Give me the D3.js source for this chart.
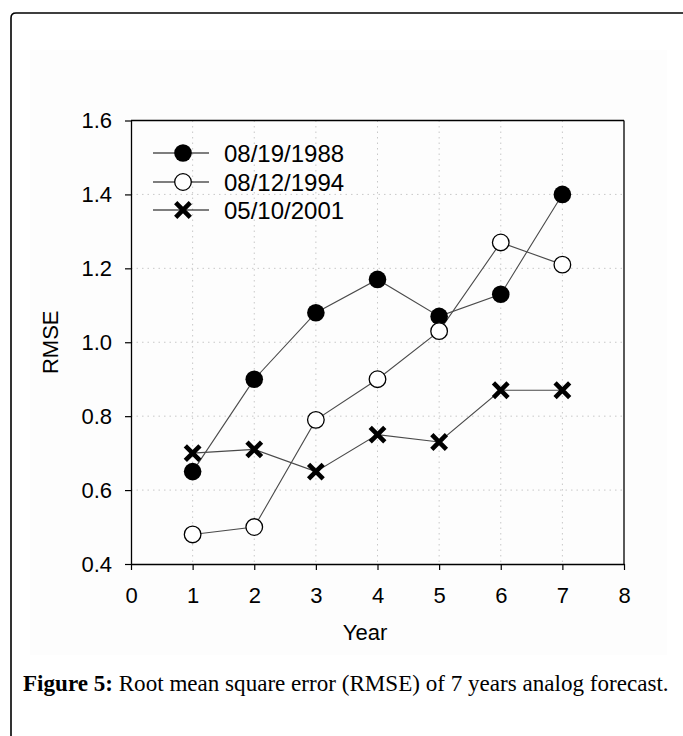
<!DOCTYPE html>
<html>
<head>
<meta charset="utf-8">
<script src="https://cdn.jsdelivr.net/npm/d3@7"></script>
<style>
  html, body { margin: 0; padding: 0; background: #fff; }
  svg { display: block; }
</style>
</head>
<body>
<script>
// ---- data ----
const years = [1, 2, 3, 4, 5, 6, 7];
const series1988 = [0.65, 0.90, 1.08, 1.17, 1.07, 1.13, 1.40];
const series1994 = [0.48, 0.50, 0.79, 0.90, 1.03, 1.27, 1.21];
const series2001 = [0.70, 0.71, 0.65, 0.75, 0.73, 0.87, 0.87];
const seriesNames = ["08/19/1988", "08/12/1994", "05/10/2001"];
const xTicks = [0, 1, 2, 3, 4, 5, 6, 7, 8];
const yTicks = [0.4, 0.6, 0.8, 1.0, 1.2, 1.4, 1.6];
const xTitle = "Year";
const yTitle = "RMSE";
const captionBold = "Figure 5:";
const captionRest = " Root mean square error (RMSE) of 7 years analog forecast.";

const W = 683, H = 736;
const svg = d3.select("body").append("svg").attr("width", W).attr("height", H);

// outer frame
svg.append("path")
  .attr("d", "M11,740 L11,18 Q11,13 16,13 L683,13")
  .attr("fill", "none").attr("stroke", "#000").attr("stroke-width", 1.6);
svg.append("rect").attr("x", 30).attr("y", 50).attr("width", 637).attr("height", 605)
  .attr("fill", "#fdfdfd");

const plot = { left: 131, right: 624, top: 120.5, bottom: 564 };
const x = d3.scaleLinear().domain([0, 8]).range([plot.left, plot.right]);
const y = d3.scaleLinear().domain([0.4, 1.6]).range([plot.bottom, plot.top]);

const font = "Liberation Sans, Arial, sans-serif";

// grid
const grid = svg.append("g");
grid.selectAll("line.gx").data(xTicks.slice(1, -1)).enter().append("line")
  .attr("x1", d => x(d)).attr("x2", d => x(d))
  .attr("y1", plot.top).attr("y2", plot.bottom)
  .attr("stroke", "#c8c8c8").attr("stroke-dasharray", "1.5,4").attr("stroke-width", 1);
grid.selectAll("line.gy").data(yTicks.slice(1, -1)).enter().append("line")
  .attr("y1", d => y(d)).attr("y2", d => y(d))
  .attr("x1", plot.left).attr("x2", plot.right)
  .attr("stroke", "#c8c8c8").attr("stroke-dasharray", "1.5,4").attr("stroke-width", 1);

// axes
const xAxis = svg.append("g").attr("transform", `translate(0,${plot.bottom})`)
  .call(d3.axisBottom(x).tickValues(xTicks).tickFormat(d3.format("d")).tickSizeInner(6).tickSizeOuter(0).tickPadding(22));
const yAxis = svg.append("g").attr("transform", `translate(${plot.left},0)`)
  .call(d3.axisLeft(y).tickValues(yTicks).tickFormat(d3.format(".1f")).tickSizeInner(6).tickSizeOuter(0).tickPadding(13));
[xAxis, yAxis].forEach(a => {
  a.select(".domain").attr("stroke", "#000").attr("stroke-width", 1.3);
  a.selectAll(".tick line").attr("stroke", "#000").attr("stroke-width", 1.2);
  a.selectAll(".tick text").attr("font-family", font).attr("font-size", 22).attr("fill", "#000");
});
xAxis.selectAll(".tick text").attr("dy", "0.5em");
// top and right frame of plot
svg.append("line").attr("x1", plot.left).attr("x2", plot.right).attr("y1", plot.top).attr("y2", plot.top)
  .attr("stroke", "#000").attr("stroke-width", 1.3);
svg.append("line").attr("x1", plot.right).attr("x2", plot.right).attr("y1", plot.top).attr("y2", plot.bottom)
  .attr("stroke", "#000").attr("stroke-width", 1.3);

// axis titles
svg.append("text").attr("x", 365).attr("y", 640).attr("text-anchor", "middle")
  .attr("font-family", font).attr("font-size", 22).text(xTitle);
svg.append("text").attr("transform", `translate(58,${(plot.top + plot.bottom) / 2}) rotate(-90)`)
  .attr("text-anchor", "middle").attr("font-family", font).attr("font-size", 22).text(yTitle);

// series
const line = d3.line().x(d => x(d[0])).y(d => y(d[1]));
const allSeries = [series1988, series1994, series2001];
const markerTypes = ["filled", "open", "cross"];
const lineColor = "#4a4a4a";

function drawMarker(g, type, cx, cy) {
  if (type === "filled") {
    g.append("circle").attr("cx", cx).attr("cy", cy).attr("r", 8.8).attr("fill", "#000");
  } else if (type === "open") {
    g.append("circle").attr("cx", cx).attr("cy", cy).attr("r", 8.3).attr("fill", "#fff")
      .attr("stroke", "#000").attr("stroke-width", 1.3);
  } else {
    const s = 7.3;
    g.append("path").attr("d", `M${cx - s},${cy - s}L${cx + s},${cy + s}M${cx - s},${cy + s}L${cx + s},${cy - s}`)
      .attr("stroke", "#000").attr("stroke-width", 4.6).attr("fill", "none");
  }
}

allSeries.forEach((vals, i) => {
  const pts = years.map((yr, j) => [yr, vals[j]]);
  svg.append("path").datum(pts).attr("d", line).attr("fill", "none")
    .attr("stroke", lineColor).attr("stroke-width", 1.1);
});
allSeries.forEach((vals, i) => {
  const g = svg.append("g");
  years.forEach((yr, j) => drawMarker(g, markerTypes[i], x(yr), y(vals[j])));
});

// legend
const legY = [153, 182, 210];
seriesNames.forEach((name, i) => {
  const g = svg.append("g");
  g.append("line").attr("x1", 153).attr("x2", 209).attr("y1", legY[i]).attr("y2", legY[i])
    .attr("stroke", "#000").attr("stroke-width", 1.1);
  drawMarker(g, markerTypes[i], 183, legY[i]);
  g.append("text").attr("x", 224).attr("y", legY[i]).attr("dy", "0.36em")
    .attr("font-family", font).attr("font-size", 24).text(name);
});

// caption
const cap = svg.append("text").attr("x", 23).attr("y", 691)
  .attr("font-family", "Liberation Serif, Times New Roman, serif").attr("font-size", 22).attr("fill", "#000");
cap.append("tspan").attr("font-weight", "bold").text(captionBold);
cap.append("tspan").text(captionRest);
const targetW = 646;
const w = cap.node().getComputedTextLength();
cap.attr("font-size", 22 * targetW / w);
</script>
</body>
</html>
